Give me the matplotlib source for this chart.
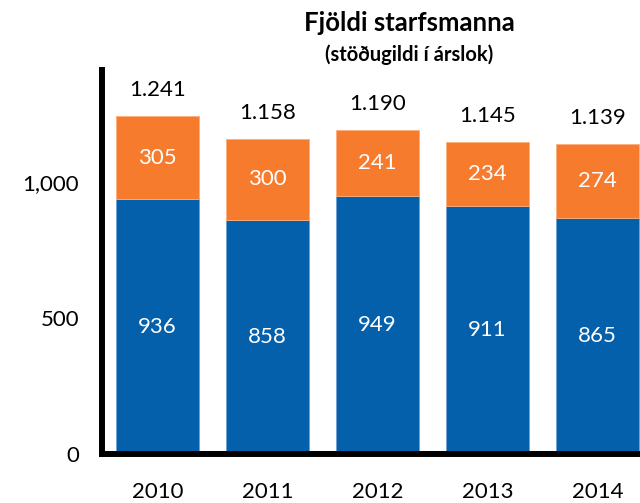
import matplotlib.pyplot as plt
import numpy as np

plt.rcParams['font.family'] = ['Lato', 'DejaVu Sans']

# Gögn
ar = ['2010', '2011', '2012', '2013', '2014']
blatt = [936, 858, 949, 911, 865]
appelsinugult = [305, 300, 241, 234, 274]
samtals = ['1.241', '1.158', '1.190', '1.145', '1.139']

blar_litur = '#0560ab'
app_litur = '#f67b2d'

fig = plt.figure(figsize=(6.4, 5.03), dpi=100)
ax = fig.add_axes([0.1594, 0.0974, 0.8406, 0.7634])

x = np.arange(len(ar))
b1 = ax.bar(x, blatt, width=0.755, color=blar_litur, edgecolor='#6fa3d3', linewidth=0.6)
b2 = ax.bar(x, appelsinugult, width=0.755, bottom=blatt, color=app_litur,
            edgecolor='#fbae7c', linewidth=0.6)

for i in range(len(ar)):
    ax.text(x[i], blatt[i] / 2, str(blatt[i]), ha='center', va='center',
            color='white', fontsize=16)
    ax.text(x[i], blatt[i] + appelsinugult[i] / 2, str(appelsinugult[i]),
            ha='center', va='center', color='white', fontsize=16)
    ax.annotate(samtals[i], (x[i], blatt[i] + appelsinugult[i]),
                xytext=(0, 14.4), textcoords='offset points',
                ha='center', va='baseline', fontsize=16, color='black')

ax.set_xlim(-0.505, 4.386)
ax.set_ylim(0, 1410)
ax.set_xticks(x)
ax.set_xticklabels(ar, fontsize=16)
ax.set_yticks([0, 500, 1000])
ax.set_yticklabels(['0', '500', '1,000'], fontsize=16)
ax.tick_params(axis='y', length=0, pad=16.5)
ax.tick_params(axis='x', length=0, pad=20)

ax.spines['top'].set_visible(False)
ax.spines['right'].set_visible(False)
ax.spines['left'].set_linewidth(4.3)
ax.spines['bottom'].set_linewidth(4.3)

fig.text(0.640, 1 - 23 / 503, 'Fjöldi starfsmanna', ha='center', va='center',
         fontsize=18.5, fontweight='bold')
fig.text(0.639, 1 - 55 / 503, '(stöðugildi í árslok)', ha='center', va='center',
         fontsize=14.5, fontweight='bold')

fig.savefig('out.png', dpi=100)
